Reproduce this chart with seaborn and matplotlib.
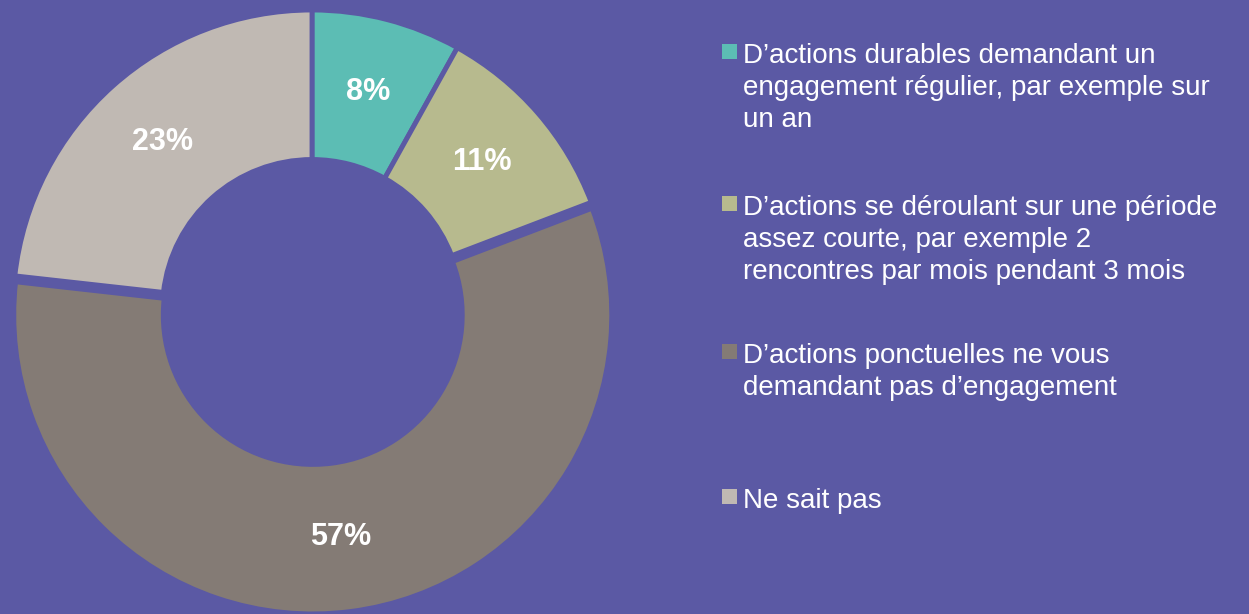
import matplotlib
matplotlib.use("Agg")
import matplotlib.pyplot as plt
from matplotlib.patches import Rectangle
import seaborn as sns

# data
categories = [
    "D\u2019actions durables demandant un\nengagement régulier, par exemple sur\nun an",
    "D\u2019actions se déroulant sur une période\nassez courte, par exemple 2\nrencontres par mois pendant 3 mois",
    "D\u2019actions ponctuelles ne vous\ndemandant pas d\u2019engagement",
    "Ne sait pas",
]
values = [8, 11, 57, 23]
colors = ["#5CBDB4", "#B7BA8E", "#847B75", "#C0B9B3"]
bg = "#5B59A4"

sns.set_style("white")
plt.rcParams["font.family"] = ["Liberation Sans", "DejaVu Sans"]
palette = sns.color_palette(colors)

fig = plt.figure(figsize=(12.49, 6.14), dpi=100, facecolor=bg)
ax = fig.add_axes([0.0104, 0.0098, 0.4788, 0.9739])
ax.set_facecolor(bg)

wedges, texts = ax.pie(values, labels=[f"{v}%" for v in values], colors=palette,
                       startangle=90, counterclock=False, radius=1.0,
                       explode=[0, 0, 0.02, 0], labeldistance=0.75,
                       wedgeprops=dict(width=0.5, edgecolor=bg, linewidth=3.5),
                       textprops=dict(color="white", fontsize=22, fontweight="bold"))
for t in texts:
    t.set_ha("center")
    t.set_va("center")
ax.set_xlim(-1, 1)
ax.set_ylim(-1, 1)
ax.set_aspect("equal")
ax.axis("off")

# legend, spaced evenly like the original slide
W, H = 1249, 614
cap_tops = [43, 195, 343, 488]
for label, c, top in zip(categories, palette, cap_tops):
    fig.text(743 / W, 1 - top / H, label, color="white", fontsize=20,
             va="top", ha="left", linespacing=1.30)
    fig.patches.append(Rectangle((722 / W, 1 - (top + 16) / H), 15 / W, 15 / H,
                                 transform=fig.transFigure, facecolor=c,
                                 edgecolor="none"))

plt.savefig("out.png", dpi=100, facecolor=bg)
